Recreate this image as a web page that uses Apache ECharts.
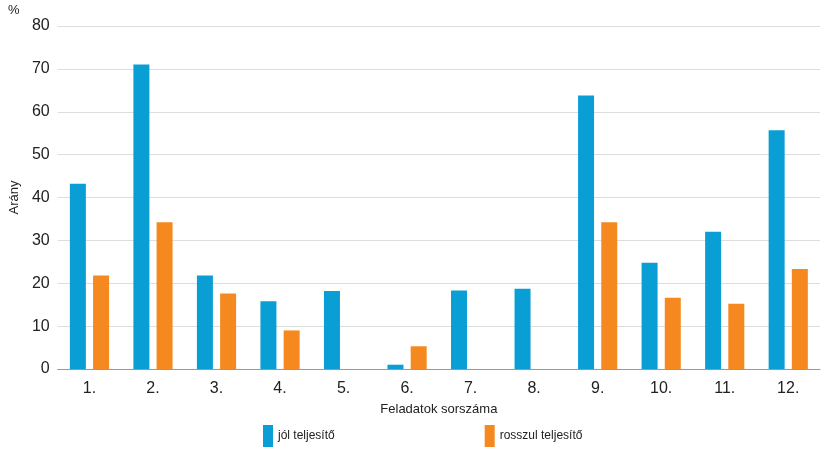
<!DOCTYPE html>
<html><head><meta charset="utf-8">
<script src="https://cdn.jsdelivr.net/npm/echarts@6/dist/echarts.min.js"></script>
</head><body style="margin:0;background:#fff">
<div id="c" style="width:830px;height:456px"></div>
<script>
const categories = ['1.','2.','3.','4.','5.','6.','7.','8.','9.','10.','11.','12.'];
const jol = [43.2,71,21.8,15.8,18.2,1,18.3,18.7,63.8,24.8,32,55.7];
const rossz = [21.8,34.2,17.6,9,0,5.3,0,0,34.2,16.6,15.2,23.3];
const chart = echarts.init(document.getElementById('c'));
chart.setOption({
  animation:false,
  textStyle:{fontFamily:'Liberation Sans, Arial'},
  grid:{left:50,right:10,top:26,bottom:87},
  graphic:[{type:'text',left:8,top:4,style:{text:'%',fontSize:13,fill:'#222',fontFamily:'Liberation Sans'}}],
  legend:{bottom:4,left:258,itemWidth:10,itemHeight:22,itemGap:150,
    textStyle:{fontSize:12,color:'#222'},
    data:[{name:'jól teljesítő',icon:'rect'},{name:'rosszul teljesítő',icon:'rect'}]},
  xAxis:{type:'category',data:categories,
    name:'Feladatok sorszáma',nameLocation:'middle',nameGap:34,
    nameTextStyle:{fontSize:13,color:'#222'},
    axisLine:{lineStyle:{color:'#999'}},axisTick:{show:false},
    axisLabel:{fontSize:16,color:'#222',margin:12}},
  yAxis:{type:'value',min:0,max:80,interval:10,
    name:'Arány',nameLocation:'middle',nameGap:34,nameRotate:90,
    nameTextStyle:{fontSize:13,color:'#222'},
    axisLabel:{fontSize:16,color:'#222'},
    splitLine:{lineStyle:{color:'#ddd'}}},
  series:[
    {name:'jól teljesítő',type:'bar',data:jol,barWidth:16,barGap:'45%',itemStyle:{color:'#0a9fd4'}},
    {name:'rosszul teljesítő',type:'bar',data:rossz,barWidth:16,itemStyle:{color:'#f5891f'}}
  ]
});
</script></body></html>
